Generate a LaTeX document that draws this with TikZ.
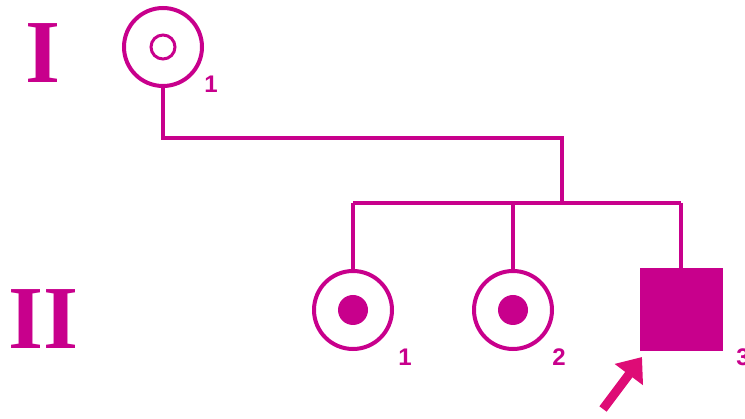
\documentclass[tikz,border=0pt]{standalone}
\usepackage{fontspec}
\setmainfont{Liberation Serif}
\newfontfamily\numfont{Liberation Sans}
\usetikzlibrary{arrows.meta}
\definecolor{ped}{RGB}{200,0,140}
\definecolor{pointer}{RGB}{222,12,118}
\tikzset{
  line/.style={draw=ped, line width=4pt},
  female/.style={circle, draw=ped, line width=4pt, minimum size=78pt, inner sep=0pt},
  male/.style={rectangle, draw=ped, fill=ped, line width=4pt, minimum size=79pt, inner sep=0pt},
  gen/.style={text=ped, font=\fontsize{90}{90}\selectfont\bfseries, inner sep=0pt},
  idnum/.style={text=ped, font=\numfont\fontsize{24}{24}\selectfont\bfseries, inner sep=0pt},
}
\begin{document}
\begin{tikzpicture}[x=1pt, y=-1pt]
  \useasboundingbox (0,0) rectangle (745,419);
  % generation labels
  \node[gen] (genI)  at (43,53)  {I};
  \node[gen] (genII) at (44,319) {II};
  % generation I
  \node[female] (i1) at (163,47) {};
  \draw[ped, line width=3pt] (i1.center) circle[radius=12pt];
  \node[idnum] (i1n) at (211,84) {1};
  % generation II
  \node[female] (ii1) at (353,310) {};
  \fill[ped] (ii1.center) circle[radius=15pt];
  \node[idnum] (ii1n) at (405,357) {1};
  \node[female] (ii2) at (513,310) {};
  \fill[ped] (ii2.center) circle[radius=15pt];
  \node[idnum] (ii2n) at (559,357) {2};
  \node[male] (ii3) at (681,310) {};
  \node[idnum] (ii3n) at (743,357) {3};
  % descent lines
  \coordinate (drop) at (562,138);
  \coordinate (sibmid) at (562,203);
  \coordinate (sibL) at (353,203);
  \coordinate (sibM) at (513,203);
  \coordinate (sibR) at (681,203);
  \draw[line] (i1.south) |- (drop) -- (sibmid);
  \draw[line] (sibL) -- (sibR);
  \draw[line] (sibL) -- (ii1.north);
  \draw[line] (sibM) -- (ii2.north);
  \draw[line] (sibR) -- (ii3.north);
  % proband arrow
  \coordinate (ptail) at (603,409);
  \coordinate (ptip) at (642,357);
  \draw[pointer, line width=9pt, -{Triangle[length=22pt, width=34pt]}] (ptail) -- (ptip);
\end{tikzpicture}
\end{document}
